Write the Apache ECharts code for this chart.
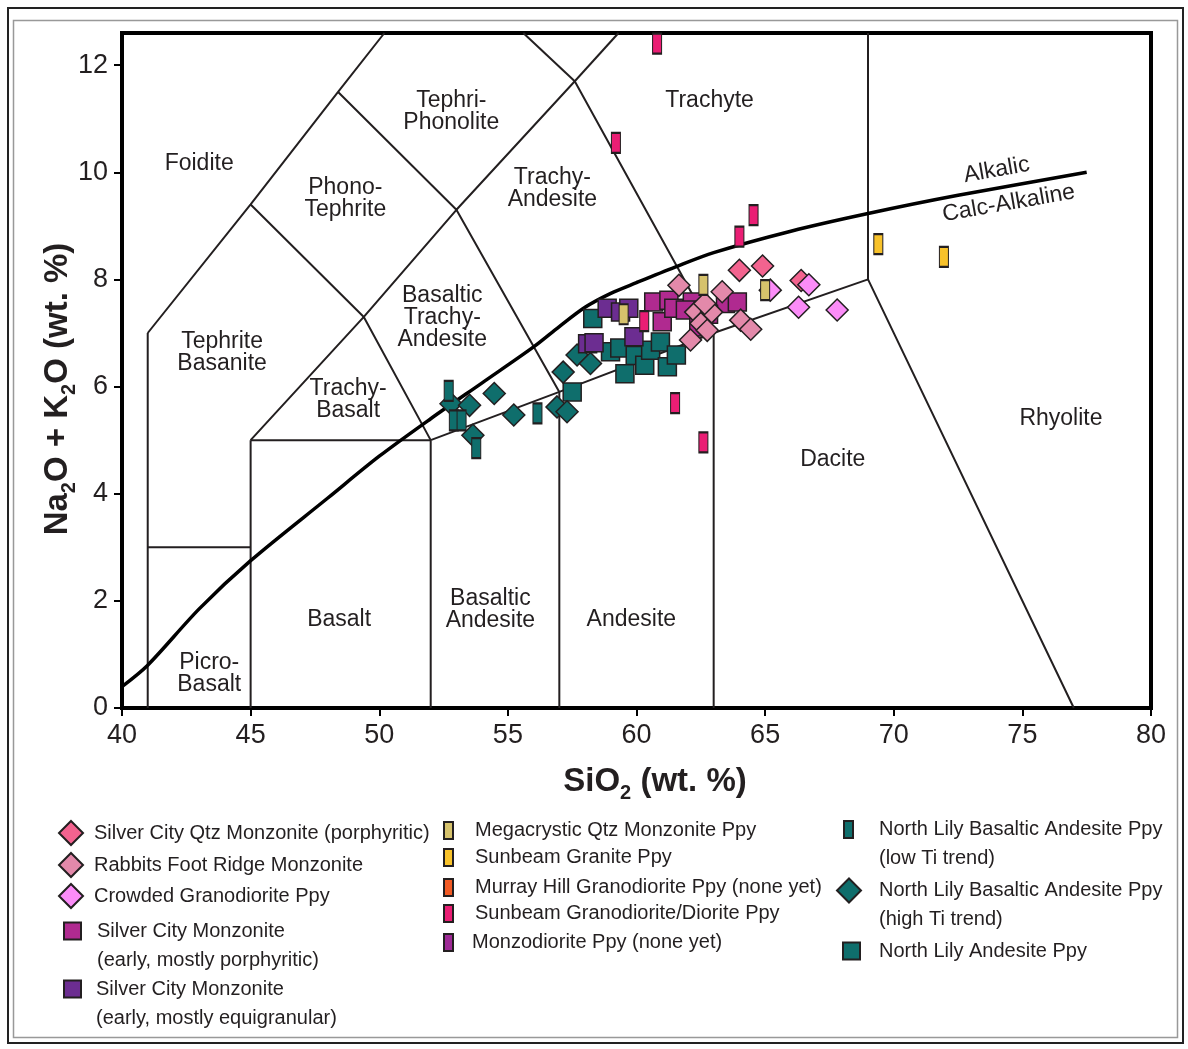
<!DOCTYPE html>
<html><head><meta charset="utf-8">
<script src="https://cdn.jsdelivr.net/npm/echarts@6/dist/echarts.min.js"></script>
<style>html,body{margin:0;padding:0;background:#fff}#c{width:1188px;height:1049px}</style>
</head><body><div id="c"></div>
<script>
// ---------- data (SiO2 wt.%, Na2O+K2O wt.%) ----------
const silverCityQtzMonzonite = [[64.0,8.17],[64.9,8.25],[66.4,7.98]];
const rabbitsFootRidge = [[61.65,7.89],[63.33,7.77],[62.3,7.39],[62.92,7.39],[62.5,7.18],[62.65,7.55],[62.1,6.87],[64.05,7.24],[64.44,7.07],[62.75,7.05]];
const crowdedGranodiorite = [[65.2,7.8],[66.7,7.9],[66.3,7.48],[67.8,7.43]];
const silverCityPorphyritic = [[60.67,7.58],[61.26,7.61],[61.0,7.21],[61.45,7.46],[62.17,7.58],[61.9,7.43],[62.42,7.11],[63.46,7.55],[63.92,7.58],[62.8,7.35]];
const silverCityEquigranular = [[58.86,7.46],[59.38,7.39],[59.7,7.46],[59.9,6.93],[58.1,6.8],[58.35,6.82]];
const megacrysticQtzMonzonite = [[62.6,7.9],[59.5,7.35],[65.0,7.8]];
const sunbeamGranite = [[69.4,8.66],[71.95,8.42]];
const murrayHill = [];
const sunbeamGranodiorite = [[60.8,12.4],[59.2,10.55],[64.55,9.2],[64.0,8.8],[60.3,7.22],[61.5,5.69],[62.6,4.96]];
const monzodiorite = [];
const northLilyLowTi = [[52.7,5.92],[52.9,5.37],[53.2,5.37],[53.77,4.85],[56.15,5.5]];
const northLilyHighTi = [[52.79,5.68],[53.51,5.65],[54.47,5.87],[55.23,5.47],[53.64,5.09],[56.91,5.62],[57.3,5.53],[57.15,6.27],[57.69,6.59],[58.21,6.43]];
const northLilyAndesite = [[58.3,7.27],[57.5,5.9],[58.99,6.65],[59.35,6.72],[59.95,6.58],[59.55,6.24],[60.32,6.4],[60.55,6.68],[60.93,6.83],[61.2,6.37],[61.55,6.59]];

// TAS field boundaries (Le Bas et al. 1986), clipped at the top of the plot
const fieldBoundaries = [
  [[41,0],[41,7]],
  [[41,3],[45,3]],
  [[45,0],[45,5]],
  [[45,5],[52,5]],
  [[52,0],[52,5],[57,5.9],[63,7],[69,8],[77,0]],
  [[57,0],[57,5.9]],
  [[63,0],[63,7]],
  [[69,8],[69,12.6]],
  [[45,5],[49.4,7.3],[52,5]],
  [[41,7],[45,9.4],[48.4,11.5],[50.2,12.6]],
  [[45,9.4],[49.4,7.3],[53,9.3],[57,5.9]],
  [[48.4,11.5],[53,9.3],[57.6,11.7],[63,7]],
  [[57.6,11.7],[55.6,12.6]],
  [[57.6,11.7],[59.3,12.6]]
];
// Alkalic / Calc-Alkaline divide (Irvine & Baragar)
const alkalicDivide = [[40,0.4],[41,0.8],[43,1.85],[45,2.75],[48,3.92],[50,4.7],[52,5.4],[54,6.07],[56,6.74],[57,7.12],[58,7.48],[59,7.74],[60,7.94],[61.5,8.23],[63,8.5],[66,8.9],[69,9.23],[72.5,9.57],[77.5,10.0]];

const fieldNames = ['Foidite','Tephri-\nPhonolite','Phono-\nTephrite','Trachyte','Trachy-\nAndesite','Tephrite\nBasanite','Basaltic\nTrachy-\nAndesite','Trachy-\nBasalt','Rhyolite','Dacite','Basaltic\nAndesite','Basalt','Andesite','Picro-\nBasalt','Alkalic','Calc-Alkaline'];
const fieldAnchors = [[43.0,10.17],[52.8,11.14],[48.68,9.5],[62.84,11.34],[56.73,9.7],[43.89,6.64],[52.45,7.28],[48.79,5.75],[76.5,5.41],[67.63,4.63],[54.32,1.83],[48.44,1.64],[59.8,1.64],[43.39,0.65],[74.0,10.04],[74.47,9.42]];

const xTicks = [40,45,50,55,60,65,70,75,80];
const yTicks = [0,2,4,6,8,10,12];

// ---------- chart ----------
const ff = '"Liberation Sans", Arial, Helvetica, sans-serif';
const ink = '#231f20';

const N = {
  qtz: 'Silver City Qtz Monzonite (porphyritic)',
  rab: 'Rabbits Foot Ridge Monzonite',
  crw: 'Crowded Granodiorite Ppy',
  scp: 'Silver City Monzonite\n(early, mostly porphyritic)',
  sce: 'Silver City Monzonite\n(early, mostly equigranular)',
  meg: 'Megacrystic Qtz Monzonite Ppy',
  sbg: 'Sunbeam Granite Ppy',
  mur: 'Murray Hill Granodiorite Ppy (none yet)',
  sgd: 'Sunbeam Granodiorite/Diorite Ppy',
  mzd: 'Monzodiorite Ppy (none yet)',
  nlo: 'North Lily Basaltic Andesite Ppy\n(low Ti trend)',
  nhi: 'North Lily Basaltic Andesite Ppy\n(high Ti trend)',
  nla: 'North Lily Andesite Ppy'
};

function scatter(name, data, symbol, size, color) {
  return { type:'scatter', name, data, symbol, symbolSize:size, z:5,
    itemStyle:{ color, borderColor:ink, borderWidth:1.5, opacity:1 } };
}
const DIA = 22, SQ = 18, BAR = [9,20];

const series = [];
fieldBoundaries.forEach(b => series.push({ type:'line', data:b, symbol:'none', silent:true, z:2,
  lineStyle:{ color:ink, width:2 } }));
series.push({ type:'line', data:alkalicDivide, symbol:'none', smooth:0.3, silent:true, z:3,
  lineStyle:{ color:'#000', width:3.5 } });
series.push({ type:'scatter', silent:true, symbolSize:0, z:4, itemStyle:{ opacity:1 },
  data: fieldNames.map((n,i) => {
    const o = { name:n, value:fieldAnchors[i] };
    if (n === 'Alkalic' || n === 'Calc-Alkaline') o.label = { rotate: 10 };
    return o;
  }),
  label:{ show:true, position:'inside', formatter:p => p.name, fontSize:23, lineHeight:22, color:ink, fontFamily:ff }
});
series.push(
  scatter(N.nla, northLilyAndesite, 'rect', SQ, '#0f6e6c'),
  scatter(N.nhi, northLilyHighTi, 'diamond', DIA, '#0f6e6c'),
  scatter(N.nlo, northLilyLowTi, 'rect', BAR, '#0f6e6c'),
  scatter(N.sce, silverCityEquigranular, 'rect', SQ, '#6c2d91'),
  scatter(N.scp, silverCityPorphyritic, 'rect', SQ, '#b02a90'),
  scatter(N.rab, rabbitsFootRidge, 'diamond', DIA, '#e389aa'),
  scatter(N.qtz, silverCityQtzMonzonite, 'diamond', DIA, '#f3638f'),
  scatter(N.crw, crowdedGranodiorite, 'diamond', DIA, '#fb8cf8'),
  scatter(N.meg, megacrysticQtzMonzonite, 'rect', BAR, '#d6c26c'),
  scatter(N.sbg, sunbeamGranite, 'rect', BAR, '#f8c22a'),
  scatter(N.mur, murrayHill, 'rect', BAR, '#f15a24'),
  scatter(N.sgd, sunbeamGranodiorite, 'rect', BAR, '#ea1e74'),
  scatter(N.mzd, monzodiorite, 'rect', BAR, '#9e2a96')
);

// two-line entries: a leading empty line puts the first text line level with the icon
function lg(name, left, top, w, h, padLeft, twoLine) {
  const o = { data:[name], left, top, orient:'vertical', itemWidth:w, itemHeight:h, padding:0, itemGap:0,
    selectedMode:false,
    textStyle:{ fontSize:20, color:ink, fontFamily:ff, lineHeight: twoLine ? 29 : 22, padding:[0,0,0,padLeft] } };
  if (twoLine) o.formatter = n => '\n' + n;
  return o;
}
const legends = [
  lg(N.qtz, 58, 820, 24, 24, 6),
  lg(N.rab, 58, 852, 24, 24, 6),
  lg(N.crw, 58, 883, 24, 24, 6),
  lg(N.scp, 63, 887.5, 17, 17, 11, true),
  lg(N.sce, 63, 945.5, 17, 17, 10, true),
  lg(N.meg, 443, 819.5, 9, 17, 17),
  lg(N.sbg, 443, 846.5, 9, 17, 17),
  lg(N.mur, 443, 876.5, 9, 17, 17),
  lg(N.sgd, 443, 902.5, 9, 17, 17),
  lg(N.mzd, 443, 931.5, 9, 17, 14),
  lg(N.nlo, 843, 786, 9, 17, 21, true),
  lg(N.nhi, 836, 847, 24, 24, 13, true),
  lg(N.nla, 842, 940, 17, 17, 14)
];

const chart = echarts.init(document.getElementById('c'), null, { renderer:'canvas' });
chart.setOption({
  animation:false,
  backgroundColor:'#fff',
  textStyle:{ fontFamily:ff },
  grid:{ left:122, right:37, top:33, bottom:341, show:true, borderColor:'#000', borderWidth:4, backgroundColor:'transparent' },
  xAxis:{
    type:'value', min:40, max:80, interval:5,
    axisLine:{ show:true, onZero:false, lineStyle:{ color:'#000', width:4 } },
    axisTick:{ show:true, length:8, lineStyle:{ color:'#000', width:2 }, customValues:xTicks },
    axisLabel:{ fontSize:27, margin:14, color:ink, fontFamily:ff, customValues:xTicks },
    splitLine:{ show:false },
    name:'{a|SiO}{s|2}{a| (wt. %)}', nameLocation:'middle', nameGap:57,
    nameTextStyle:{ padding:[0,0,0,37], rich:{
      a:{ fontSize:33, fontWeight:'bold', color:ink, fontFamily:ff, lineHeight:33 },
      s:{ fontSize:20, fontWeight:'bold', color:ink, fontFamily:ff, lineHeight:20, padding:[24,0,0,0] } } }
  },
  yAxis:{
    type:'value', min:0, max:12.6, interval:2,
    axisLine:{ show:true, onZero:false, lineStyle:{ color:'#000', width:4 } },
    axisTick:{ show:true, length:8, lineStyle:{ color:'#000', width:2 }, customValues:yTicks },
    axisLabel:{ fontSize:27, margin:14, color:ink, fontFamily:ff, customValues:yTicks },
    splitLine:{ show:false },
    name:'{a|Na}{s|2}{a|O + K}{s|2}{a|O (wt. %)}', nameLocation:'middle', nameGap:48, nameMoveOverlap:false,
    nameTextStyle:{ padding:[0,37,0,0], rich:{
      a:{ fontSize:33, fontWeight:'bold', color:ink, fontFamily:ff, lineHeight:33 },
      s:{ fontSize:20, fontWeight:'bold', color:ink, fontFamily:ff, lineHeight:20, padding:[24,0,0,0] } } }
  },
  legend: legends,
  graphic:[
    { type:'rect', shape:{ x:8, y:8, width:1175, height:1035 }, style:{ fill:'none', stroke:'#222', lineWidth:2 }, z:-1, silent:true },
    { type:'rect', shape:{ x:13.5, y:20.5, width:1164, height:1017 }, style:{ fill:'none', stroke:'#999', lineWidth:1.5 }, z:-1, silent:true }
  ],
  series
});
</script>
</body></html>
